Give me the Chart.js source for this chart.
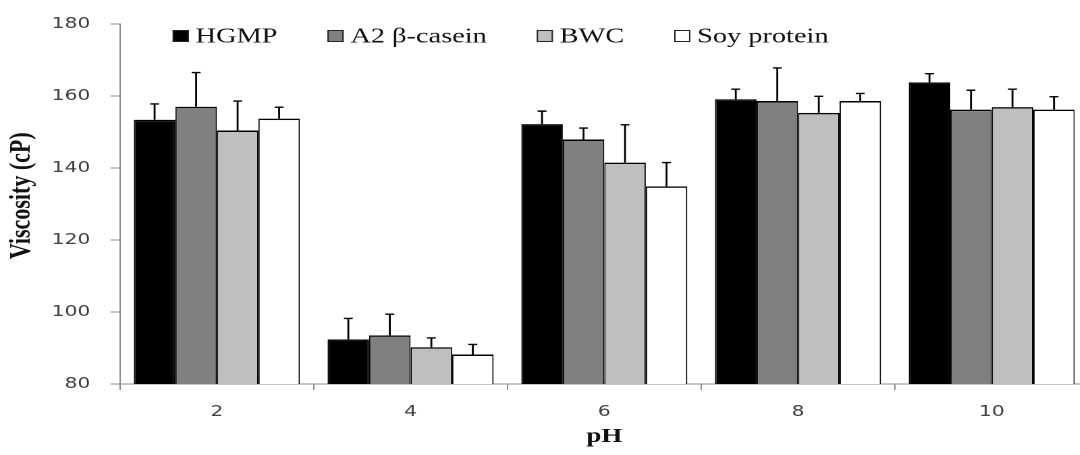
<!DOCTYPE html>
<html>
<head>
<meta charset="utf-8">
<script src="https://cdn.jsdelivr.net/npm/chart.js@4"></script>
<style>
  html, body { margin: 0; padding: 0; background: #fff; overflow: hidden; }
  #chart { display: block; }
</style>
</head>
<body>
<!-- drawn narrow and widened by css, so text comes out wide like the original figure -->
<canvas id="chart" width="812" height="455" style="width:1096.2px;height:455px"></canvas>
<script>
// viscosity (cP) by pH
var pH = ['2', '4', '6', '8', '10'];
var yTicks = [80, 100, 120, 140, 160, 180];

var hgmp = [153.4, 92.4, 152.2, 159.1, 163.8];
var hgmpErr = [4.4, 5.8, 3.6, 2.8, 2.4];
var a2 = [157.0, 93.5, 147.9, 158.6, 156.2];
var a2Err = [9.5, 5.9, 3.2, 9.2, 5.4];
var bwc = [150.4, 90.2, 141.5, 155.3, 156.9];
var bwcErr = [8.2, 2.6, 10.5, 4.6, 5.0];
var soy = [153.7, 88.2, 134.9, 158.6, 156.2];
var soyErr = [3.2, 2.8, 6.6, 2.1, 3.6];

var errs = [hgmpErr, a2Err, bwcErr, soyErr];

var axisGray = '#8c8c8c';
var tickGray = '#404040';
var tickFont = { family: 'DejaVu Sans', size: 15 };

// upper half error bars on top of each bar
var errorBars = {
  id: 'errorBars',
  afterDatasetsDraw: function (chart) {
    var ctx = chart.ctx;
    var y = chart.scales.y;
    ctx.save();
    ctx.strokeStyle = '#000';
    ctx.lineWidth = 1.4;
    chart.data.datasets.forEach(function (ds, i) {
      chart.getDatasetMeta(i).data.forEach(function (bar, j) {
        var top = y.getPixelForValue(ds.data[j] + errs[i][j]);
        ctx.beginPath();
        ctx.moveTo(bar.x, bar.y);
        ctx.lineTo(bar.x, top);
        ctx.moveTo(bar.x - 3.3, top);
        ctx.lineTo(bar.x + 3.3, top);
        ctx.stroke();
      });
    });
    ctx.restore();
  }
};

// legend row sitting inside the plot, along the top
var legendRow = {
  id: 'legendRow',
  afterDraw: function (chart) {
    var ctx = chart.ctx;
    var x = chart.chartArea.left + 39;
    var y = 36;
    ctx.save();
    ctx.font = '21px "Liberation Serif"';
    ctx.textBaseline = 'middle';
    chart.data.datasets.forEach(function (ds) {
      ctx.fillStyle = ds.backgroundColor;
      ctx.fillRect(x, y - 6, 12, 12);
      ctx.strokeStyle = '#222';
      ctx.lineWidth = 1;
      ctx.strokeRect(x + 0.5, y - 5.5, 11, 11);
      ctx.fillStyle = '#111';
      ctx.fillText(ds.label, x + 17, y + 1);
      x += 17 + ctx.measureText(ds.label).width + 37;
    });
    ctx.restore();
  }
};

var barBorder = { top: 1.5, left: 1, right: 1, bottom: 0 };

var ctx = document.getElementById('chart');
var myChart = new Chart(ctx, {
  type: 'bar',
  data: {
    labels: pH,
    datasets: [
      { label: 'HGMP', data: hgmp, backgroundColor: '#000000', borderColor: '#000', borderWidth: barBorder },
      { label: 'A2 β-casein', data: a2, backgroundColor: '#808080', borderColor: '#000', borderWidth: barBorder },
      { label: 'BWC', data: bwc, backgroundColor: '#bfbfbf', borderColor: '#000', borderWidth: barBorder },
      { label: 'Soy protein', data: soy, backgroundColor: '#ffffff', borderColor: '#000', borderWidth: barBorder }
    ]
  },
  options: {
    responsive: false,
    devicePixelRatio: 2,
    animation: false,
    categoryPercentage: 0.857,
    barPercentage: 1.0,
    layout: { padding: { top: 22, right: 5.5, left: 0, bottom: 0 } },
    plugins: {
      legend: { display: false },
      tooltip: { enabled: false }
    },
    scales: {
      x: {
        grid: { offset: true, drawOnChartArea: false, tickLength: 6, color: axisGray },
        border: { color: axisGray, width: 1 },
        ticks: { font: tickFont, color: tickGray, padding: 13 },
        title: {
          display: true,
          text: 'pH',
          color: '#111',
          font: { family: 'Liberation Serif', size: 20, weight: 'bold' },
          padding: { bottom: 6 }
        },
        afterFit: function (s) { s.height = 71; }
      },
      y: {
        min: 80,
        max: 180,
        afterBuildTicks: function (s) { s.ticks = yTicks.map(function (v) { return { value: v }; }); },
        grid: { drawOnChartArea: false, tickLength: 7, color: axisGray },
        border: { color: axisGray, width: 1 },
        ticks: { font: tickFont, color: tickGray, padding: 15 },
        title: {
          display: true,
          // leading spaces lift the rotated title a little above centre
          text: '   Viscosity (cP)',
          color: '#111',
          font: { family: 'Liberation Serif', size: 22, weight: 'bold' },
          padding: { top: 3 }
        },
        afterFit: function (s) { s.width = 88.9; }
      }
    }
  },
  plugins: [errorBars, legendRow]
});
</script>
</body>
</html>
